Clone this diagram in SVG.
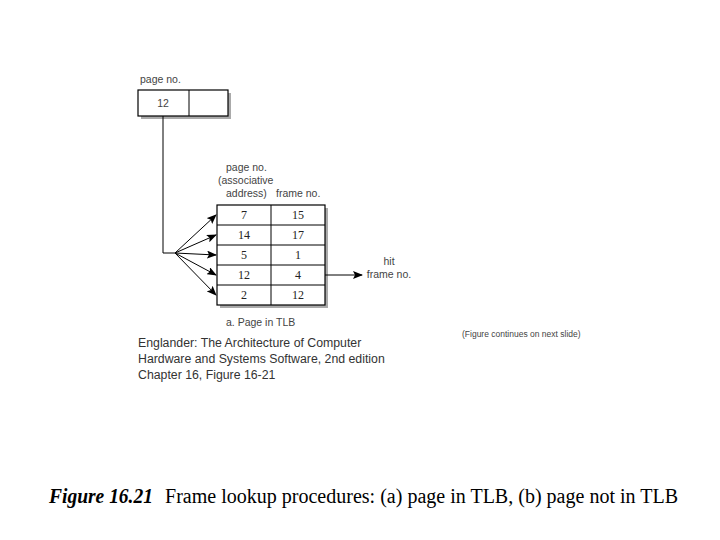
<svg xmlns="http://www.w3.org/2000/svg" width="720" height="540" viewBox="0 0 720 540">
<defs>
<marker id="ah" markerWidth="10" markerHeight="8" refX="9" refY="4" orient="auto" markerUnits="userSpaceOnUse">
<path d="M0,0 L10,4 L0,8 L2,4 Z" fill="#000"/>
</marker>
</defs>
<style>
.lbl{font-family:"Liberation Sans",Arial,sans-serif;font-size:10.5px;fill:#444}
.num{font-family:"Liberation Serif","Times New Roman",serif;font-size:12px;fill:#222;text-anchor:middle}
.cap{font-family:"Liberation Sans",Arial,sans-serif;font-size:12.3px;fill:#333}
.box{fill:#fff;stroke:#000;stroke-width:1.2}
.shadow{fill:#aaa}
.ln{fill:none;stroke:#000;stroke-width:1}
.fig{font-family:"Liberation Serif","Times New Roman",serif;font-size:20px;fill:#000}
</style>
<rect width="720" height="540" fill="#fff"/>

<g id="addr">
<text class="lbl" x="140" y="83">page no.</text>
<rect class="shadow" x="141" y="93" width="90" height="26"/>
<rect class="box" x="138" y="90" width="90" height="26"/>
<line class="ln" x1="189" y1="90" x2="189" y2="116" stroke-width="1.2"/>
<text class="lbl" x="163" y="107" text-anchor="middle">12</text>
</g>

<g id="tlb">
<text class="lbl" x="226" y="171">page no.</text>
<text class="lbl" x="218" y="184">(associative</text>
<text class="lbl" x="226" y="197">address)</text>
<text class="lbl" x="276" y="197">frame no.</text>
<rect class="shadow" x="220" y="208" width="108" height="100"/>
<rect class="box" x="217" y="205" width="108" height="100"/>
<line class="ln" x1="271" y1="205" x2="271" y2="305" stroke-width="1.2"/>
<line class="ln" x1="217" y1="225" x2="325" y2="225" stroke-width="1.2"/>
<line class="ln" x1="217" y1="245" x2="325" y2="245" stroke-width="1.2"/>
<line class="ln" x1="217" y1="265" x2="325" y2="265" stroke-width="1.2"/>
<line class="ln" x1="217" y1="285" x2="325" y2="285" stroke-width="1.2"/>
<text class="num" x="244" y="219">7</text><text class="num" x="298" y="219">15</text>
<text class="num" x="244" y="239">14</text><text class="num" x="298" y="239">17</text>
<text class="num" x="244" y="259">5</text><text class="num" x="298" y="259" fill="#777">1</text>
<text class="num" x="244" y="279">12</text><text class="num" x="298" y="279">4</text>
<text class="num" x="244" y="299">2</text><text class="num" x="298" y="299">12</text>
<text class="lbl" x="226" y="326">a. Page in TLB</text>
</g>

<g id="hit">
<text class="lbl" x="389" y="265" text-anchor="middle">hit</text>
<text class="lbl" x="389" y="278" text-anchor="middle">frame no.</text>
</g>

<g id="connectors">
<polyline class="ln" points="163,116 163,253 175,253"/>
<line class="ln" x1="175" y1="253" x2="216" y2="215" marker-end="url(#ah)"/>
<line class="ln" x1="175" y1="253" x2="216" y2="235" marker-end="url(#ah)"/>
<line class="ln" x1="175" y1="253" x2="216" y2="255" marker-end="url(#ah)"/>
<line class="ln" x1="175" y1="253" x2="216" y2="275" marker-end="url(#ah)"/>
<line class="ln" x1="175" y1="253" x2="216" y2="295" marker-end="url(#ah)"/>
<line class="ln" x1="325" y1="275" x2="362" y2="275" marker-end="url(#ah)"/>
</g>

<g id="credits">
<text class="cap" x="138" y="347">Englander: The Architecture of Computer</text>
<text class="cap" x="138" y="363">Hardware and Systems Software, 2nd edition</text>
<text class="cap" x="138" y="379">Chapter 16, Figure 16-21</text>
<text class="lbl" x="462" y="337" style="font-size:8.5px">(Figure continues on next slide)</text>
</g>

<g id="caption">
<text class="fig" x="49" y="503" font-weight="bold" font-style="italic" textLength="104" lengthAdjust="spacingAndGlyphs">Figure 16.21</text>
<text class="fig" x="165" y="503" textLength="513" lengthAdjust="spacingAndGlyphs">Frame lookup procedures: (a) page in TLB, (b) page not in TLB</text>
</g>
</svg>
